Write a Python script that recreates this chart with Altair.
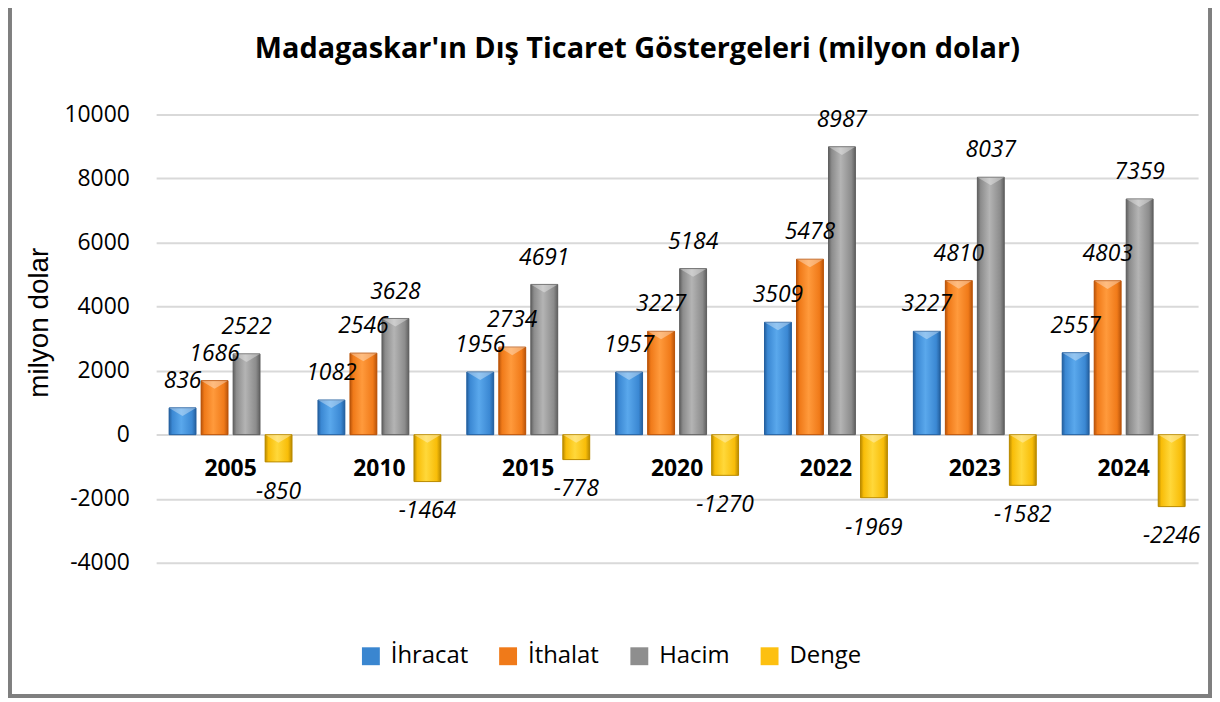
import altair as alt
import pandas as pd

# ---------------- data ----------------
years = ["2005", "2010", "2015", "2020", "2022", "2023", "2024"]
series_names = ["İhracat", "İthalat", "Hacim", "Denge"]
ihracat = [836, 1082, 1956, 1957, 3509, 3227, 2557]
ithalat = [1686, 2546, 2734, 3227, 5478, 4810, 4803]
hacim = [2522, 3628, 4691, 5184, 8987, 8037, 7359]
denge = [-850, -1464, -778, -1270, -1969, -1582, -2246]
y_ticks = [-4000, -2000, 0, 2000, 4000, 6000, 8000, 10000]
title_text = "Madagaskar'ın Dış Ticaret Göstergeleri (milyon dolar)"
y_title = "milyon dolar"

# ---------------- styles ----------------
legend_colors = ["#3a86d0", "#f07a19", "#8e8e8e", "#fdc010"]
grad_defs = {
    "İhracat": ("#24609f", "#3b88d3", "#5aa8ec"),
    "İthalat": ("#b9540a", "#f07a19", "#ff9a3c"),
    "Hacim": ("#606060", "#8c8c8c", "#b4b4b4"),
    "Denge": ("#b98a00", "#f8bd08", "#ffd83a"),
}
FONT = "Open Sans"
W, H = 1048, 451

rows = []
for i, yr in enumerate(years):
    for s, vals in zip(series_names, [ihracat, ithalat, hacim, denge]):
        rows.append({"year": yr, "series": s, "value": vals[i]})
df = pd.DataFrame(rows)
df["top"] = df["value"].clip(lower=0)
df["label"] = df["value"].astype(str)

x_enc = alt.X("year:N", sort=years,
              scale=alt.Scale(domain=years, paddingInner=0.14, paddingOuter=0.07),
              axis=None)
xo_enc = alt.XOffset("series:N", sort=series_names,
                     scale=alt.Scale(domain=series_names, paddingInner=0.16, paddingOuter=0.08))
y_scale = alt.Scale(domain=[-4000, 10000], nice=False)
y_axis = alt.Axis(values=y_ticks, title=y_title, grid=True, gridColor="#d9d9d9",
                  gridWidth=2, domain=False, ticks=False, labelFont=FONT,
                  labelExpr="'' + datum.value",
                  labelFontSize=23, labelColor="#000000", labelPadding=27,
                  titleFont="Liberation Sans", titleFontSize=28,
                  titleFontWeight="normal", titleColor="#000000", titleAngle=270,
                  titleX=-117, titleY=209, titleAlign="center", titleBaseline="middle")

base = alt.Chart(df)

bars = base.mark_bar().encode(
    x=x_enc, xOffset=xo_enc,
    y=alt.Y("value:Q", scale=y_scale, axis=y_axis),
    color=alt.Color("series:N", sort=series_names,
                    scale=alt.Scale(domain=series_names, range=legend_colors),
                    legend=alt.Legend(orient="none", legendX=204, legendY=533,
                                      direction="horizontal", title=None,
                                      symbolType="square", symbolSize=324,
                                      symbolStrokeWidth=0, labelFont=FONT,
                                      labelFontSize=24, labelColor="#000000",
                                      labelOffset=8, columnPadding=28)),
)

grad_layers = []
for s in series_names:
    dark, mid, light = grad_defs[s]
    g = alt.Gradient(gradient="linear", x1=0, x2=1, y1=0, y2=0, stops=[
        alt.GradientStop(color=dark, offset=0),
        alt.GradientStop(color=mid, offset=0.12),
        alt.GradientStop(color=light, offset=0.45),
        alt.GradientStop(color=mid, offset=0.85),
        alt.GradientStop(color=dark, offset=1),
    ])
    grad_layers.append(
        base.transform_filter(alt.datum.series == s)
        .mark_bar(fill=g, stroke=dark, strokeWidth=1)
        .encode(x=x_enc, xOffset=xo_enc, y=alt.Y("value:Q", scale=y_scale))
    )

bevel = base.mark_point(shape="M-1,0L1,0L0,0.6Z", size=729, filled=True,
                        color="white", opacity=0.35, strokeWidth=0).encode(
    x=x_enc, xOffset=xo_enc, y=alt.Y("top:Q", scale=y_scale))

pos_labels = base.transform_filter(alt.datum.value >= 0).mark_text(
    font=FONT, fontStyle="italic", fontSize=23, dy=-27, baseline="middle",
    color="#000000").encode(x=x_enc, xOffset=xo_enc,
                            y=alt.Y("value:Q", scale=y_scale), text="label:N")
neg_labels = base.transform_filter(alt.datum.value < 0).mark_text(
    font=FONT, fontStyle="italic", fontSize=23, dy=30, baseline="middle",
    color="#000000").encode(x=x_enc, xOffset=xo_enc,
                            y=alt.Y("value:Q", scale=y_scale), text="label:N")

cat_labels = alt.Chart(pd.DataFrame({"year": years})).mark_text(
    font=FONT, fontWeight="bold", fontSize=23, dy=35, baseline="middle",
    color="#000000").encode(x=x_enc, y=alt.datum(0), text="year:N")

one = pd.DataFrame({"t": [title_text]})
title = alt.Chart(one).mark_text(font=FONT, fontWeight="bold", fontSize=29,
                                 baseline="middle", align="center",
                                 color="#000000").encode(
    x=alt.value(484), y=alt.value(-66), text="t:N")

frame = alt.Chart(one).mark_rect(fillOpacity=0, stroke="#7f7f7f", strokeWidth=4).encode(
    x=alt.value(-147), x2=alt.value(1060), y=alt.value(-110), y2=alt.value(585))

chart = alt.layer(frame, bars, *grad_layers, bevel, pos_labels, neg_labels,
                  cat_labels, title).properties(
    width=W, height=H,
    padding={"left": 149, "top": 105, "right": 14, "bottom": 136},
    autosize=alt.AutoSizeParams(type="none"),
    background="white",
).configure_view(stroke=None)

chart.save("out.html", embed_options={"renderer": "svg", "actions": False})
